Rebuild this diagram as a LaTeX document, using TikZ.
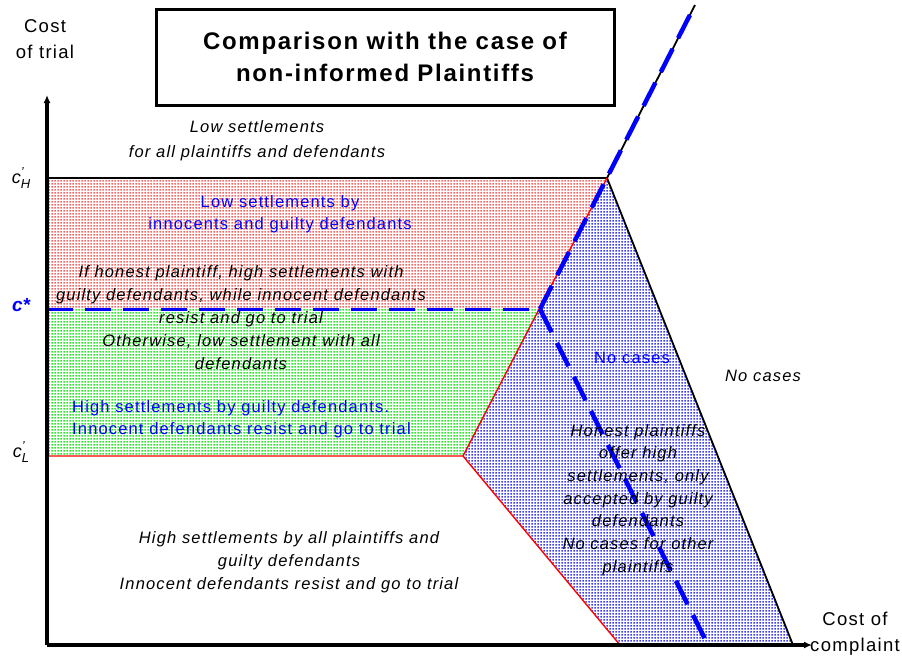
\documentclass[tikz,border=0pt]{standalone}
\usepackage{fontspec}
\setmainfont{Liberation Sans}
\newfontfamily\widefont[LetterSpace=7]{Liberation Sans}
\usetikzlibrary{arrows.meta, patterns, calc}
\pgfdeclarepatternformonly{fine dots}{\pgfqpoint{0pt}{0pt}}{\pgfqpoint{3pt}{3pt}}{\pgfqpoint{3pt}{3pt}}{%
  \pgfpathrectangle{\pgfqpoint{0.6pt}{0.6pt}}{\pgfqpoint{1.8pt}{1.8pt}}\pgfusepath{fill}}
\definecolor{dotred}{RGB}{255,100,100}
\definecolor{dotgreen}{RGB}{40,235,40}
\definecolor{dotblue}{RGB}{60,60,255}
\newcommand{\tickc}[1]{\textit{c}\rlap{\raisebox{7pt}{\fontsize{13}{13}\selectfont\itshape '}}\raisebox{-5pt}{\fontsize{13}{13}\selectfont\itshape #1}}
\tikzset{
  axis/.style={
    line width=3.5pt,
    -{Latex[length=8pt,width=7pt]}
  },
  zone/.style={
    pattern=fine dots,
    pattern color=#1
  },
  border/.style={
    draw=black,
    line width=1.8pt
  },
  redborder/.style={
    draw=red,
    line width=1.4pt
  },
  cstar/.style={
    draw=blue,
    line width=#1,
    dash pattern=on 26pt off 12pt
  },
  note/.style={
    font=\fontsize{16.5}{23}\selectfont\widefont\itshape,
    align=center,
    inner sep=0pt
  },
  bluenote/.style={
    font=\fontsize{16.5}{22}\selectfont\widefont,
    text=blue,
    align=center,
    inner sep=0pt
  },
  axislabel/.style={
    font=\fontsize{18.5}{26}\selectfont\widefont,
    align=center,
    inner sep=0pt
  },
  tick/.style={
    font=\fontsize{18}{18}\selectfont,
    inner sep=0pt
  },
  title/.style={
    draw=black,
    line width=3pt,
    minimum width=458pt,
    minimum height=96pt,
    align=center,
    font=\fontsize{24}{32}\selectfont\widefont\bfseries
  }
}

\begin{document}
\begin{tikzpicture}[x=1pt, y=-1pt]
\useasboundingbox (0,0) rectangle (902,659);

% points
\coordinate (O) at (47,645);
\coordinate (ytop) at (47,95);
\coordinate (xend) at (812,645);
\coordinate (hL) at (47,178);
\coordinate (hR) at (607,178);
\coordinate (sL) at (47,309);
\coordinate (sR) at (540,309);
\coordinate (lL) at (47,456);
\coordinate (lR) at (463,456);
\coordinate (peak) at (695,5);
\coordinate (redfoot) at (620,645);
\coordinate (blackfoot) at (793,645);
\coordinate (dashfoot) at (708,645);

% regions
\fill [zone=dotred] (hL) -- (hR) -- (sR) -- (sL) -- cycle;
\fill [zone=dotgreen] (sL) -- (sR) -- (lR) -- (lL) -- cycle;
\fill [zone=dotblue] (hR) -- (blackfoot) -- (redfoot) -- (lR) -- cycle;

% boundaries
\draw [border] (hL) -- (hR) -- (peak);
\draw [border] (hR) -- (blackfoot);
\draw [redborder] (lL) -- (lR) -- (redfoot);
\draw [redborder] (lR) -- (hR);

%% c*
\draw [cstar=3pt] (sL) -- (sR);
\draw [cstar=4.5pt] (sR) -- ($(sR)!0.97!(peak)$);
\draw [cstar=4.5pt] (sR) -- (dashfoot);

% axes
\draw [axis] (O) -- (ytop);
\draw [axis] (O) -- (xend);

% labels
\node [title] (head) at (385,57) {Comparison with the case of\\non-informed Plaintiffs};
\node [axislabel] (ylab) at (45,39) {Cost\\of trial};
\node [axislabel] (xlab) at (855,634) {Cost of\\complaint};

\node [tick] (cH) at (21,178) {\tickc{H}};
\node [tick, text=blue, font=\fontsize{19}{19}\selectfont\bfseries\itshape] (cS) at (21,305) {c*};
\node [tick] (cL) at (21,452) {\tickc{L}};

\node [note, font=\fontsize{16.5}{25}\selectfont\widefont\itshape] (lowall) at (257,141)
  {Low settlements\\for all plaintiffs and defendants};
\node [bluenote] (lowby) at (280,214)
  {Low settlements by\\innocents and guilty defendants};
\node [note] (honest) at (241,318)
  {If honest plaintiff, high settlements with\\guilty defendants, while innocent defendants\\resist and go to trial\\Otherwise, low settlement with all\\defendants};
\node [bluenote, align=left, anchor=west] (highguilty) at (72,419)
  {High settlements by guilty defendants.\\Innocent defendants resist and go to trial};
\node [note] (highall) at (289,562)
  {High settlements by all plaintiffs and\\guilty defendants\\Innocent defendants resist and go to trial};
\node [bluenote] (nocasesin) at (632,358) {No cases};
\node [note] (nocasesout) at (763,376) {No cases};
\node [note, font=\fontsize{16.5}{22.7}\selectfont\widefont\itshape] (offer) at (638,500)
  {Honest plaintiffs\\offer high\\settlements, only\\accepted by guilty\\defendants\\No cases for other\\plaintiffs};

\end{tikzpicture}
\end{document}
